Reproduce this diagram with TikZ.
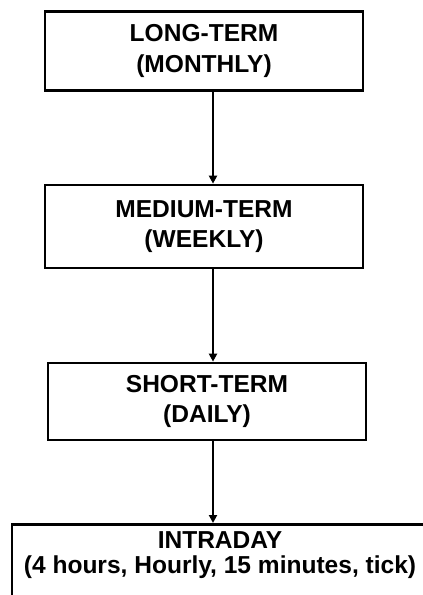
\documentclass[tikz,border=0pt]{standalone}
\usepackage{fontspec}
\setmainfont{Liberation Sans}
\usetikzlibrary{arrows.meta}

\tikzset{
  termbox/.style={draw, line width=2pt, minimum width=238.5pt, inner sep=0.75pt,
    align=center, font=\bfseries\fontsize{18.4}{23}\selectfont},
  flow/.style={line width=1.5pt, -{Triangle[length=6pt,width=6pt]}}
}

\begin{document}
\begin{tikzpicture}[x=0.75pt,y=0.75pt,yscale=-1,xscale=1]
\useasboundingbox (0,0) rectangle (423,595);
\clip (0,0) rectangle (423,595);

%Shape: Rectangle [long term]
\node [termbox, minimum height=59.25pt] (longterm) at (204,51) {LONG-TERM\\(MONTHLY)};
%Shape: Rectangle [medium term]
\node [termbox, minimum height=62.25pt] (mediumterm) at (204,226.5) {MEDIUM-TERM\\(WEEKLY)};
%Shape: Rectangle [short term]
\node [termbox, minimum height=57.75pt] (shortterm) at (207,401.5) {SHORT-TERM\\(DAILY)};
%Shape: Rectangle [intraday], runs off the page
\node [termbox, minimum width=312pt, anchor=north, inner ysep=5.5pt, text depth=40pt,
  font=\bfseries\fontsize{18.4}{18.5}\selectfont] (intraday) at (220,523)
  {INTRADAY\\(4 hours, Hourly, 15 minutes, tick)};

%Straight Lines
\draw [flow] ([xshift=6.75pt]longterm.south) -- ([xshift=6.75pt]mediumterm.north);
\draw [flow] ([xshift=6.75pt]mediumterm.south) -- ([xshift=6.75pt]mediumterm.south |- shortterm.north);
\draw [flow] ([xshift=4.5pt]shortterm.south) -- ([xshift=4.5pt]shortterm.south |- intraday.north);

\end{tikzpicture}
\end{document}
